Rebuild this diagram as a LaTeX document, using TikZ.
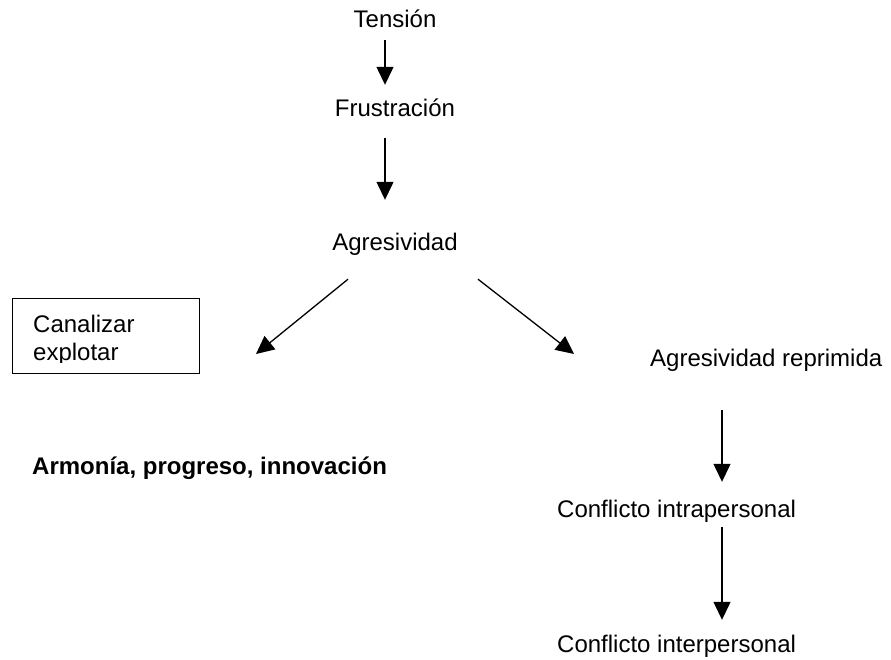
\documentclass[tikz,border=0pt]{standalone}
\usepackage{fontspec}
\setmainfont{Liberation Sans}
\usetikzlibrary{arrows.meta}
\begin{document}
\begin{tikzpicture}[x=1pt,y=-1pt,
  lbl/.style={inner sep=0pt, text height=18pt, text depth=5pt, font=\fontsize{24}{28}\selectfont},
  arr/.style={line width=1.3pt, -{Triangle[length=18pt,width=17pt]}}]
\useasboundingbox[fill=white] (0,0) rectangle (891,660);
% top chain
\node[lbl, anchor=base] (tension) at (395,28) {Tensión};
\node[lbl, anchor=base] (frus) at (395,117) {Frustración};
\node[lbl, anchor=base] (agr) at (395,251) {Agresividad};
\draw[arr] ([shift={(-10,7)}]tension.south) -- ([shift={(-10,-14)}]frus.north);
\draw[arr] ([shift={(-10,16)}]frus.south) -- ([shift={(-10,-33)}]agr.north);
% branches
\coordinate (ltip) at (256,354);
\coordinate (rtip) at (574,354);
\draw[arr] ([shift={(-47,23)}]agr.south) -- (ltip);
\draw[arr] ([shift={(83,23)}]agr.south) -- (rtip);
% box
\node[draw, line width=1pt, inner sep=0pt, minimum width=187pt, minimum height=75pt, anchor=north west] (box) at (12,298) {};
\begin{scope}
\clip (12,298) rectangle (199,362);
\node[lbl, anchor=base west] (can) at (33,332) {Canalizar};
\node[lbl, anchor=base west] (exp) at (33,360) {explotar};
\end{scope}
\node[lbl, anchor=base west, font=\fontsize{24}{28}\selectfont\bfseries] (arm) at (32,474) {Armonía, progreso, innovación};
% right chain
\node[lbl, anchor=base west] (rep) at (650,366) {Agresividad reprimida};
\node[lbl, anchor=base west] (intra) at (557,517) {Conflicto intrapersonal};
\node[lbl, anchor=base west] (inter) at (557,652) {Conflicto interpersonal};
\draw[arr] ([shift={(72,39)}]rep.south west) -- ([shift={(165,-17)}]intra.north west);
\draw[arr] ([shift={(165,5)}]intra.south west) -- ([shift={(165,-14)}]inter.north west);
\end{tikzpicture}
\end{document}
